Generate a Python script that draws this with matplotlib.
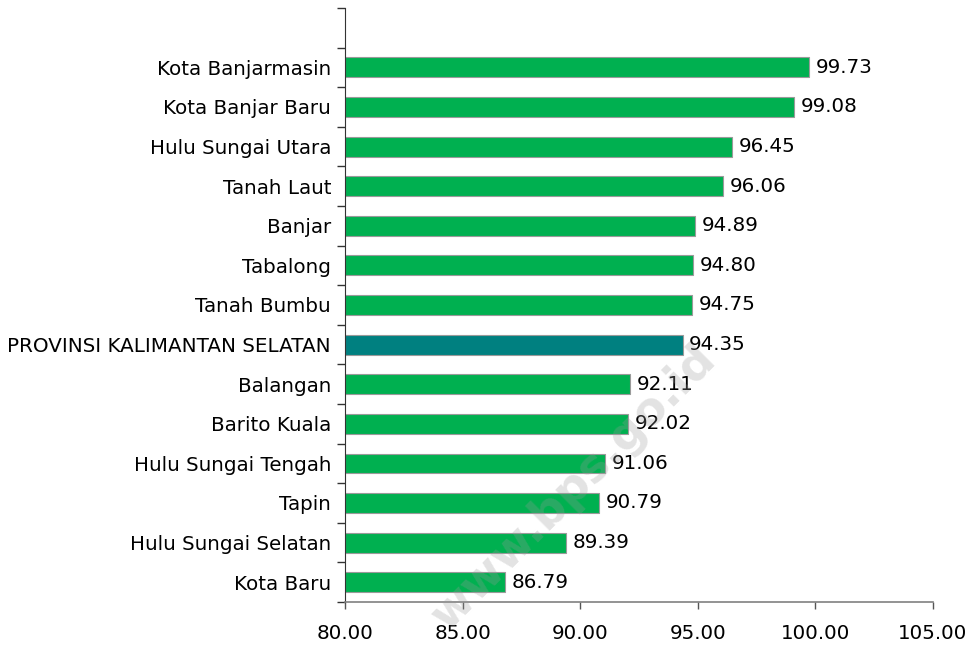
import numpy as np
import matplotlib.pyplot as plt

# data, top to bottom as in the chart
regions = ['Kota Banjarmasin', 'Kota Banjar Baru', 'Hulu Sungai Utara', 'Tanah Laut',
           'Banjar', 'Tabalong', 'Tanah Bumbu', 'PROVINSI KALIMANTAN SELATAN',
           'Balangan', 'Barito Kuala', 'Hulu Sungai Tengah', 'Tapin',
           'Hulu Sungai Selatan', 'Kota Baru']
values = [99.73, 99.08, 96.45, 96.06, 94.89, 94.80, 94.75, 94.35,
          92.11, 92.02, 91.06, 90.79, 89.39, 86.79]
xticks = [80, 85, 90, 95, 100, 105]

plt.rcParams['font.family'] = ['DejaVu Sans']

green = '#00b050'
teal = '#008080'
fs = 14.3

fig = plt.figure(figsize=(9.74, 6.46), dpi=100)
ax = fig.add_axes([345 / 974, 44 / 646, 588 / 974, 594 / 646])

n = len(regions)
ypos = np.arange(n)[::-1]  # top bar gets highest position, one empty slot above
colors = [teal if r.startswith('PROVINSI') else green for r in regions]

ax.barh(ypos, [v - 80 for v in values], left=80, height=0.5, color=colors,
        edgecolor='#9a9a9a', linewidth=0.8, zorder=2)

for y, v in zip(ypos, values):
    ax.text(v + 0.28, y, f'{v:.2f}', va='center', ha='left', fontsize=fs,
            zorder=4, bbox=dict(facecolor='white', edgecolor='none', pad=1.0))

ax.set_xlim(80, 105)
ax.set_ylim(-0.5, n + 0.5)
ax.set_xticks(xticks)
ax.set_xticklabels([f'{t:.2f}' for t in xticks], fontsize=fs)
ax.set_yticks(ypos)
ax.set_yticklabels(regions, fontsize=fs)
ax.set_yticks(np.arange(-0.5, n + 1, 1), minor=True)

ax.tick_params(axis='y', which='major', length=0, pad=10)
ax.tick_params(axis='y', which='minor', length=6, width=1, color='#333333')
ax.tick_params(axis='x', length=5, width=1, color='#555555', pad=11)

for s in ['top', 'right']:
    ax.spines[s].set_visible(False)
ax.spines['left'].set_color('#333333')
ax.spines['bottom'].set_color('#808080')
ax.spines['bottom'].set_linewidth(1.2)

# watermark
fig.text(574 / 974, 1 - 488 / 646, 'www.bps.go.id', fontsize=33, fontweight='bold',
         color='#9a9a9a', alpha=0.28, rotation=45, ha='center', va='center', zorder=3)

fig.savefig('out.png', dpi=100)
